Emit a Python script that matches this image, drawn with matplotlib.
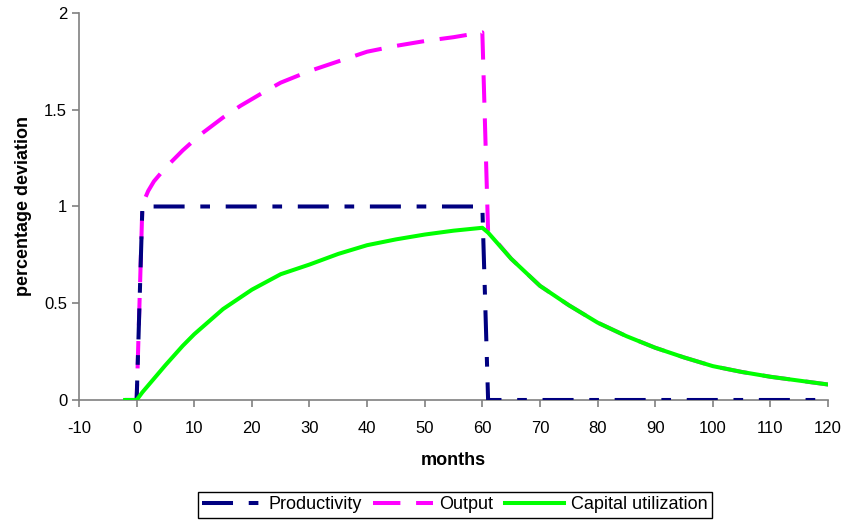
import matplotlib
matplotlib.use("Agg")
import matplotlib.pyplot as plt

plt.rcParams['font.family'] = ['Liberation Sans', 'DejaVu Sans']
plt.rcParams['axes.unicode_minus'] = False

# months for productivity
prod_months = [-2, -1, 0, 1, 60, 61, 120]
productivity = [0, 0, 0, 1.0, 1.0, 0, 0]

# output
out_months = [-2, -1, 0, 1, 2, 3, 5, 8, 11, 15, 18, 22, 25, 30, 35, 40, 45, 50, 55, 58, 60,
              61, 65, 70, 75, 80, 85, 90, 95, 100, 105, 110, 115, 120]
output = [0, 0, 0, 1.01, 1.08, 1.13, 1.20, 1.29, 1.37, 1.46, 1.52, 1.59, 1.64, 1.70, 1.75,
          1.80, 1.83, 1.855, 1.875, 1.89, 1.90,
          0.87, 0.73, 0.59, 0.49, 0.40, 0.33, 0.27, 0.22, 0.175, 0.145, 0.12, 0.10, 0.08]

# capital utilization
cap_months = [-2, -1, 0, 1, 3, 5, 8, 10, 15, 20, 25, 30, 35, 40, 45, 50, 55, 60,
              61, 65, 70, 75, 80, 85, 90, 95, 100, 105, 110, 115, 120]
capital = [0, 0, 0, 0.04, 0.11, 0.18, 0.28, 0.34, 0.47, 0.57, 0.65, 0.70, 0.755, 0.80, 0.83,
           0.855, 0.875, 0.89,
           0.865, 0.73, 0.59, 0.49, 0.40, 0.33, 0.27, 0.22, 0.175, 0.145, 0.12, 0.10, 0.08]

x_ticks = list(range(-10, 121, 10))
y_ticks = [0, 0.5, 1, 1.5, 2]
y_labels = ['0', '0.5', '1', '1.5', '2']

fig = plt.figure(figsize=(8.47, 5.2), dpi=100)
ax = fig.add_axes([0.0933, 0.2308, 0.9776 - 0.0933, 0.975 - 0.2308])

lw = 2.9
ax.plot(prod_months, productivity, color='#000080', lw=lw,
        linestyle=(0, (7.7, 3.9, 2.4, 3.9)), dash_capstyle='butt',
        solid_capstyle='butt', label='Productivity', zorder=3)
ax.plot(out_months, output, color='#FF00FF', lw=lw,
        linestyle=(0, (6.8, 3.9)), dash_capstyle='butt',
        label='Output', zorder=2)
ax.plot(cap_months, capital, color='#00FF00', lw=lw, linestyle='-',
        label='Capital utilization', zorder=4)

ax.set_xlim(-10, 120)
ax.set_ylim(0, 2)
ax.set_xticks(x_ticks)
ax.set_yticks(y_ticks)
ax.set_yticklabels(y_labels)

for s in ['top', 'right']:
    ax.spines[s].set_visible(False)
for s in ['left', 'bottom']:
    ax.spines[s].set_color('#808080')
    ax.spines[s].set_linewidth(1.2)
ax.tick_params(axis='both', direction='out', length=5, width=1.2, color='#808080',
               labelsize=12, labelcolor='black')
ax.tick_params(axis='x', pad=10)

ax.set_xlabel('months', fontsize=13, fontweight='bold', labelpad=12)
ax.set_ylabel('percentage deviation', fontsize=13, fontweight='bold', labelpad=9)

leg = fig.legend(loc='center', bbox_to_anchor=(0.537, 0.029), ncol=3, fontsize=13,
                 frameon=True, fancybox=False, edgecolor='black', framealpha=1,
                 handlelength=3.3, handletextpad=0.35, columnspacing=0.65,
                 borderpad=0.25, borderaxespad=0)
leg.get_frame().set_linewidth(1.0)

fig.savefig('out.png', dpi=100)
